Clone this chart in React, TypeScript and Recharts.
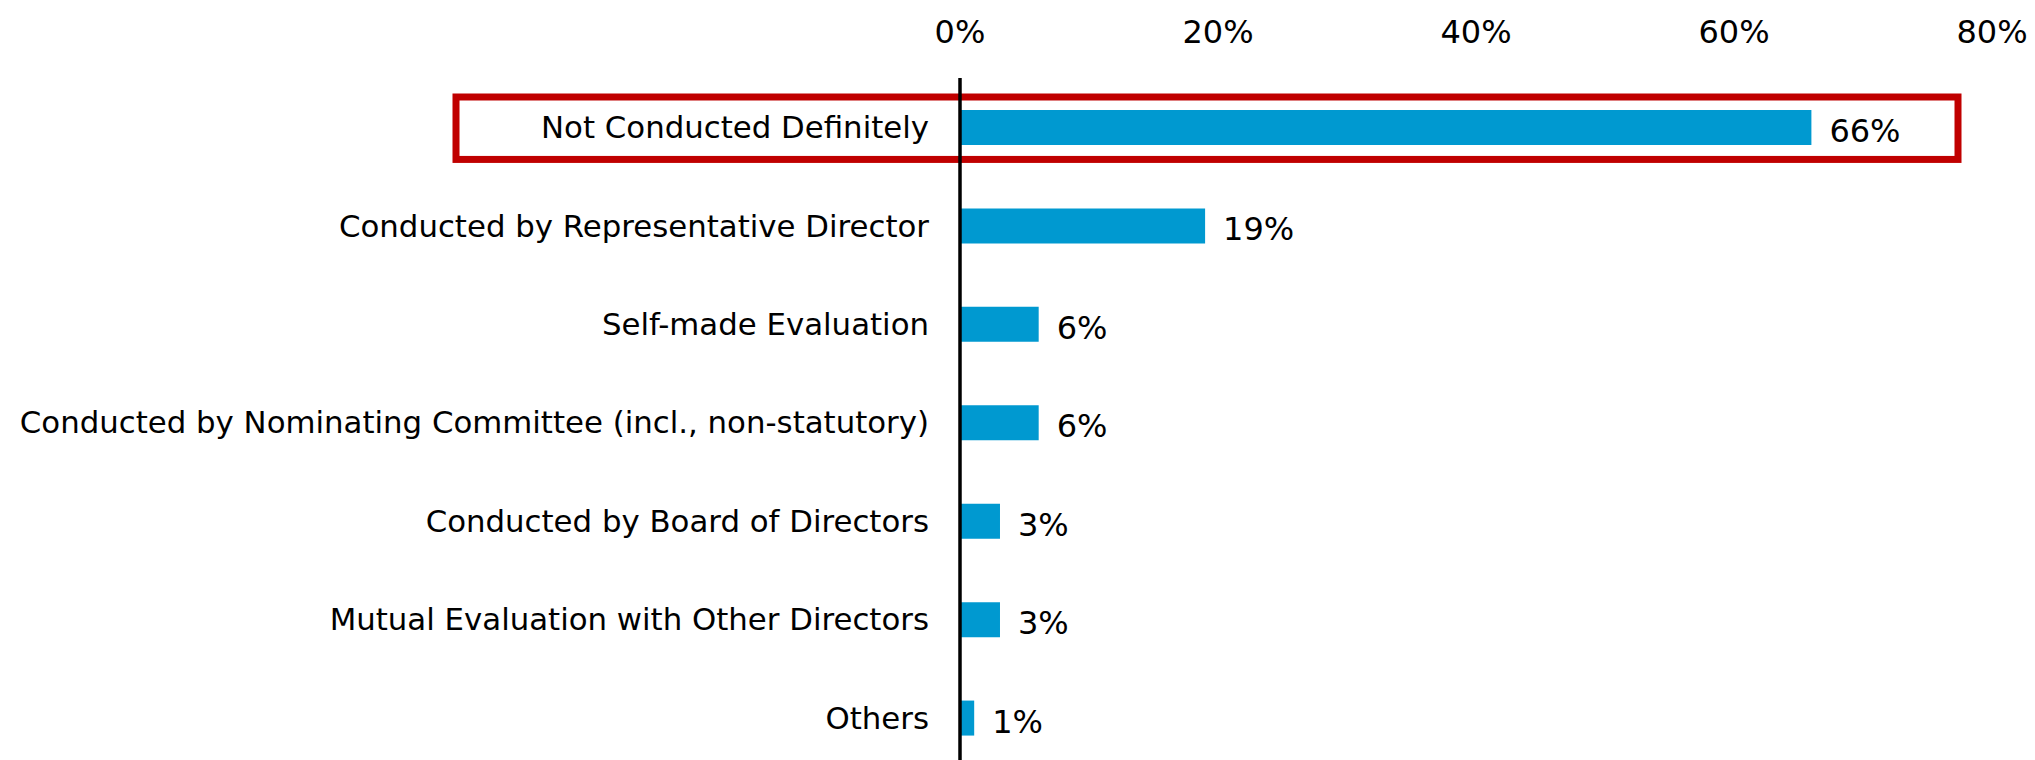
import React from 'react';
import { BarChart, Bar, XAxis, YAxis, ReferenceArea, LabelList } from 'recharts';

const CATEGORIES = [
  'Not Conducted Definitely',
  'Conducted by Representative Director',
  'Self-made Evaluation',
  'Conducted by Nominating Committee (incl., non-statutory)',
  'Conducted by Board of Directors',
  'Mutual Evaluation with Other Directors',
  'Others',
];
// share of companies (%)
const SHARES = [66, 19, 6.1, 6.1, 3.1, 3.1, 1.1];
const X_TICKS = [0, 20, 40, 60, 80];
const HIGHLIGHT = CATEGORIES[0];

const FONT = '"DejaVu Sans", Verdana, sans-serif';
const BAR_COLOR = '#0099D0';
const BOX_COLOR = '#C00000';

const data = CATEGORIES.map((name, i) => ({ name, value: SHARES[i] }));

// red frame around the highlighted row, inset from the band the ReferenceArea gives
const HighlightBox = (props: any) => {
  const { x, y, width, height } = props;
  const left = x - 504;
  const right = x + width - 34;
  const top = y + 19;
  const bottom = y + height - 17;
  return (
    <rect x={left} y={top} width={right - left} height={bottom - top} fill="none" stroke={BOX_COLOR} strokeWidth={7} />
  );
};

const ValueLabel = (p: any) => (
  <text x={p.x + p.width + 18} y={p.y + p.height / 2} dy={14.5} fontSize={32} fontFamily={FONT} fill="#000">
    {`${Math.round(p.value)}%`}
  </text>
);

export default function App() {
  return (
    <div style={{ position: 'absolute', left: 0, top: 0, width: 2035, height: 760, overflow: 'hidden', background: '#fff' }}>
      <BarChart width={2035} height={767} data={data} layout="vertical" margin={{ top: 0, right: 43, bottom: 0, left: 0 }} barSize={35}>
        <ReferenceArea y1={HIGHLIGHT} y2={HIGHLIGHT} x1={0} x2={80} shape={<HighlightBox />} ifOverflow="visible" />
        <Bar dataKey="value" fill={BAR_COLOR} isAnimationActive={false}>
          <LabelList dataKey="value" content={<ValueLabel />} />
        </Bar>
        <XAxis
          type="number"
          orientation="top"
          domain={[0, 80]}
          ticks={X_TICKS}
          tickFormatter={(v: number) => `${v}%`}
          axisLine={false}
          tickLine={false}
          tickSize={0}
          tickMargin={35}
          height={78}
          tick={{ fontSize: 32, fontFamily: FONT, fill: '#000' }}
        />
        <YAxis
          type="category"
          dataKey="name"
          width={960}
          interval={0}
          axisLine={{ stroke: '#000', strokeWidth: 3.5 }}
          tickLine={false}
          tickSize={0}
          tickMargin={31}
          tick={{ fontSize: 30.8, fontFamily: FONT, fill: '#000' }}
        />
      </BarChart>
    </div>
  );
}
